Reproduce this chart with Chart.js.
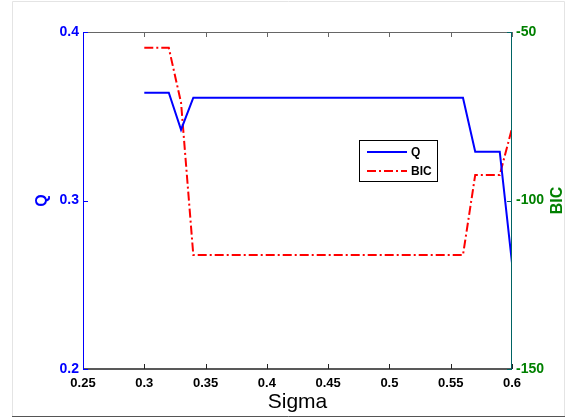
<!DOCTYPE html>
<html>
<head>
<meta charset="utf-8">
<script src="https://cdn.jsdelivr.net/npm/chart.js@4"></script>
<style>
  html, body { margin: 0; padding: 0; background: #ffffff; }
  #wrap { width: 572px; height: 418px; }
</style>
</head>
<body>
<div id="wrap"><canvas id="c" width="572" height="418"></canvas></div>
<script>
// Sigma sweep and the two measures evaluated at each step
const sigma = [0.30, 0.31, 0.32, 0.33, 0.34, 0.35, 0.36, 0.37, 0.38, 0.39, 0.40,
               0.41, 0.42, 0.43, 0.44, 0.45, 0.46, 0.47, 0.48, 0.49, 0.50,
               0.51, 0.52, 0.53, 0.54, 0.55, 0.56, 0.57, 0.58, 0.59, 0.60];
const qValues = [0.364, 0.364, 0.364, 0.342, 0.361, 0.361, 0.361, 0.361, 0.361, 0.361, 0.361,
                 0.361, 0.361, 0.361, 0.361, 0.361, 0.361, 0.361, 0.361, 0.361, 0.361,
                 0.361, 0.361, 0.361, 0.361, 0.361, 0.361, 0.329, 0.329, 0.329, 0.263];
const bicValues = [-54.7, -54.7, -54.7, -71.0, -116.2, -116.2, -116.2, -116.2, -116.2, -116.2, -116.2,
                   -116.2, -116.2, -116.2, -116.2, -116.2, -116.2, -116.2, -116.2, -116.2, -116.2,
                   -116.2, -116.2, -116.2, -116.2, -116.2, -116.2, -92.4, -92.4, -92.4, -78.6];

// Axis ticks and labels
const xTicks = [0.25, 0.30, 0.35, 0.40, 0.45, 0.50, 0.55, 0.60];
const qTicks = [0.2, 0.3, 0.4];
const bicTicks = [-150, -100, -50];
const xTitle = 'Sigma';
const qTitle = 'Q';
const bicTitle = 'BIC';

const FONT = "'Liberation Sans', Arial, sans-serif";
const BLUE = '#0000ff';
const RED = '#ff0000';
const GREEN = '#008000';
const TEAL = '#006464';
const DASHDOT = [9, 3, 2, 3];

function fmt(v) {
  return String(Math.round(v * 100) / 100);
}

// Frame, inward tick marks, axis titles and the boxed legend
const decorations = {
  id: 'decorations',
  beforeDraw(chart) {
    const ctx = chart.ctx;
    ctx.save();
    ctx.fillStyle = '#ffffff';
    ctx.fillRect(0, 0, chart.width, chart.height);
    ctx.strokeStyle = '#e4e4e4';
    ctx.lineWidth = 1;
    ctx.beginPath();
    ctx.moveTo(12.5, 416);
    ctx.lineTo(12.5, 1.5);
    ctx.lineTo(564.5, 1.5);
    ctx.lineTo(564.5, 416);
    ctx.stroke();
    ctx.strokeStyle = '#555555';
    ctx.beginPath();
    ctx.moveTo(12, 416.5);
    ctx.lineTo(565, 416.5);
    ctx.stroke();
    ctx.restore();
  },
  afterDatasetsDraw(chart) {
    const ctx = chart.ctx;
    const a = chart.chartArea;
    const xs = chart.scales.x, ys = chart.scales.y, y2 = chart.scales.y2;
    ctx.save();
    ctx.lineWidth = 1;
    // top edge with its ticks
    ctx.strokeStyle = '#666666';
    ctx.beginPath();
    ctx.moveTo(a.left, a.top + 0.5);
    ctx.lineTo(a.right, a.top + 0.5);
    xTicks.forEach(v => {
      const px = Math.round(xs.getPixelForValue(v)) + 0.5;
      ctx.moveTo(px, a.top);
      ctx.lineTo(px, a.top + 5);
    });
    ctx.stroke();
    // bottom axis
    ctx.strokeStyle = '#222222';
    ctx.lineWidth = 1.5;
    ctx.beginPath();
    ctx.moveTo(a.left, a.bottom);
    ctx.lineTo(a.right, a.bottom);
    ctx.stroke();
    ctx.lineWidth = 1;
    ctx.beginPath();
    xTicks.forEach(v => {
      const px = Math.round(xs.getPixelForValue(v)) + 0.5;
      ctx.moveTo(px, a.bottom);
      ctx.lineTo(px, a.bottom - 5);
    });
    ctx.stroke();
    // left axis (Q)
    ctx.strokeStyle = BLUE;
    ctx.beginPath();
    ctx.moveTo(a.left + 0.5, a.top);
    ctx.lineTo(a.left + 0.5, a.bottom);
    qTicks.forEach(v => {
      const py = Math.round(ys.getPixelForValue(v)) + 0.5;
      ctx.moveTo(a.left, py);
      ctx.lineTo(a.left + 5, py);
    });
    ctx.stroke();
    // right axis (BIC)
    ctx.strokeStyle = TEAL;
    ctx.beginPath();
    ctx.moveTo(a.right - 0.5, a.top);
    ctx.lineTo(a.right - 0.5, a.bottom);
    bicTicks.forEach(v => {
      const py = Math.round(y2.getPixelForValue(v)) + 0.5;
      ctx.moveTo(a.right, py);
      ctx.lineTo(a.right - 5, py);
    });
    ctx.stroke();
    ctx.restore();
  },
  afterDraw(chart) {
    const ctx = chart.ctx;
    const a = chart.chartArea;
    ctx.save();
    // x title
    ctx.fillStyle = '#000000';
    ctx.font = '21px ' + FONT;
    ctx.textAlign = 'center';
    ctx.textBaseline = 'alphabetic';
    ctx.fillText(xTitle, (a.left + a.right) / 2, 408);
    // left title
    ctx.save();
    ctx.translate(43, (a.top + a.bottom) / 2);
    ctx.rotate(-Math.PI / 2);
    ctx.fillStyle = BLUE;
    ctx.font = 'bold 16px ' + FONT;
    ctx.textBaseline = 'middle';
    ctx.fillText(qTitle, 0, 0);
    ctx.restore();
    // right title
    ctx.save();
    ctx.translate(558, (a.top + a.bottom) / 2);
    ctx.rotate(-Math.PI / 2);
    ctx.fillStyle = GREEN;
    ctx.font = 'bold 16px ' + FONT;
    ctx.textBaseline = 'middle';
    ctx.fillText(bicTitle, 0, 0);
    ctx.restore();
    // legend box
    const lx = 359.5, ly = 140.5, lw = 78, lh = 41;
    ctx.fillStyle = '#ffffff';
    ctx.fillRect(lx, ly, lw, lh);
    ctx.strokeStyle = '#000000';
    ctx.lineWidth = 1;
    ctx.strokeRect(lx, ly, lw, lh);
    const rows = chart.data.datasets;
    ctx.font = 'bold 12px ' + FONT;
    ctx.textAlign = 'left';
    ctx.textBaseline = 'middle';
    rows.forEach((ds, i) => {
      const ry = 152 + i * 19;
      ctx.strokeStyle = ds.borderColor;
      ctx.lineWidth = 2;
      ctx.setLineDash(ds.borderDash || []);
      ctx.beginPath();
      ctx.moveTo(367, ry);
      ctx.lineTo(407, ry);
      ctx.stroke();
      ctx.setLineDash([]);
      ctx.fillStyle = '#000000';
      ctx.fillText(ds.label, 411, ry + 1);
    });
    ctx.restore();
  }
};

new Chart(document.getElementById('c'), {
  type: 'line',
  data: {
    datasets: [
      {
        label: qTitle,
        data: sigma.map((s, i) => ({ x: s, y: qValues[i] })),
        yAxisID: 'y',
        borderColor: BLUE,
        borderWidth: 2,
        pointRadius: 0,
        tension: 0,
        fill: false
      },
      {
        label: bicTitle,
        data: sigma.map((s, i) => ({ x: s, y: bicValues[i] })),
        yAxisID: 'y2',
        borderColor: RED,
        borderWidth: 2,
        borderDash: DASHDOT,
        pointRadius: 0,
        tension: 0,
        fill: false
      }
    ]
  },
  options: {
    responsive: false,
    animation: false,
    devicePixelRatio: 1,
    layout: { padding: { left: 0, right: 0, top: 32, bottom: 0 } },
    plugins: { legend: { display: false }, tooltip: { enabled: false } },
    scales: {
      x: {
        type: 'linear',
        position: 'bottom',
        min: 0.25,
        max: 0.6,
        afterBuildTicks: s => { s.ticks = xTicks.map(v => ({ value: v })); },
        afterFit: s => { s.height = 49; },
        grid: { display: false, drawTicks: false },
        border: { display: false },
        ticks: {
          padding: 7,
          color: '#000000',
          font: { family: FONT, size: 13, weight: 'bold' },
          maxRotation: 0,
          autoSkip: false,
          callback: v => fmt(v)
        }
      },
      y: {
        type: 'linear',
        position: 'left',
        min: 0.2,
        max: 0.4,
        afterBuildTicks: s => { s.ticks = qTicks.map(v => ({ value: v })); },
        afterFit: s => { s.width = 83; },
        grid: { display: false, drawTicks: false },
        border: { display: false },
        ticks: {
          padding: 4,
          color: BLUE,
          font: { family: FONT, size: 14, weight: 'bold' },
          callback: v => v.toFixed(1)
        }
      },
      y2: {
        type: 'linear',
        position: 'right',
        min: -150,
        max: -50,
        afterBuildTicks: s => { s.ticks = bicTicks.map(v => ({ value: v })); },
        afterFit: s => { s.width = 60; },
        grid: { display: false, drawTicks: false },
        border: { display: false },
        ticks: {
          padding: 4,
          color: GREEN,
          font: { family: FONT, size: 14, weight: 'bold' },
          callback: v => String(v)
        }
      }
    }
  },
  plugins: [decorations]
});
</script>
</body>
</html>
